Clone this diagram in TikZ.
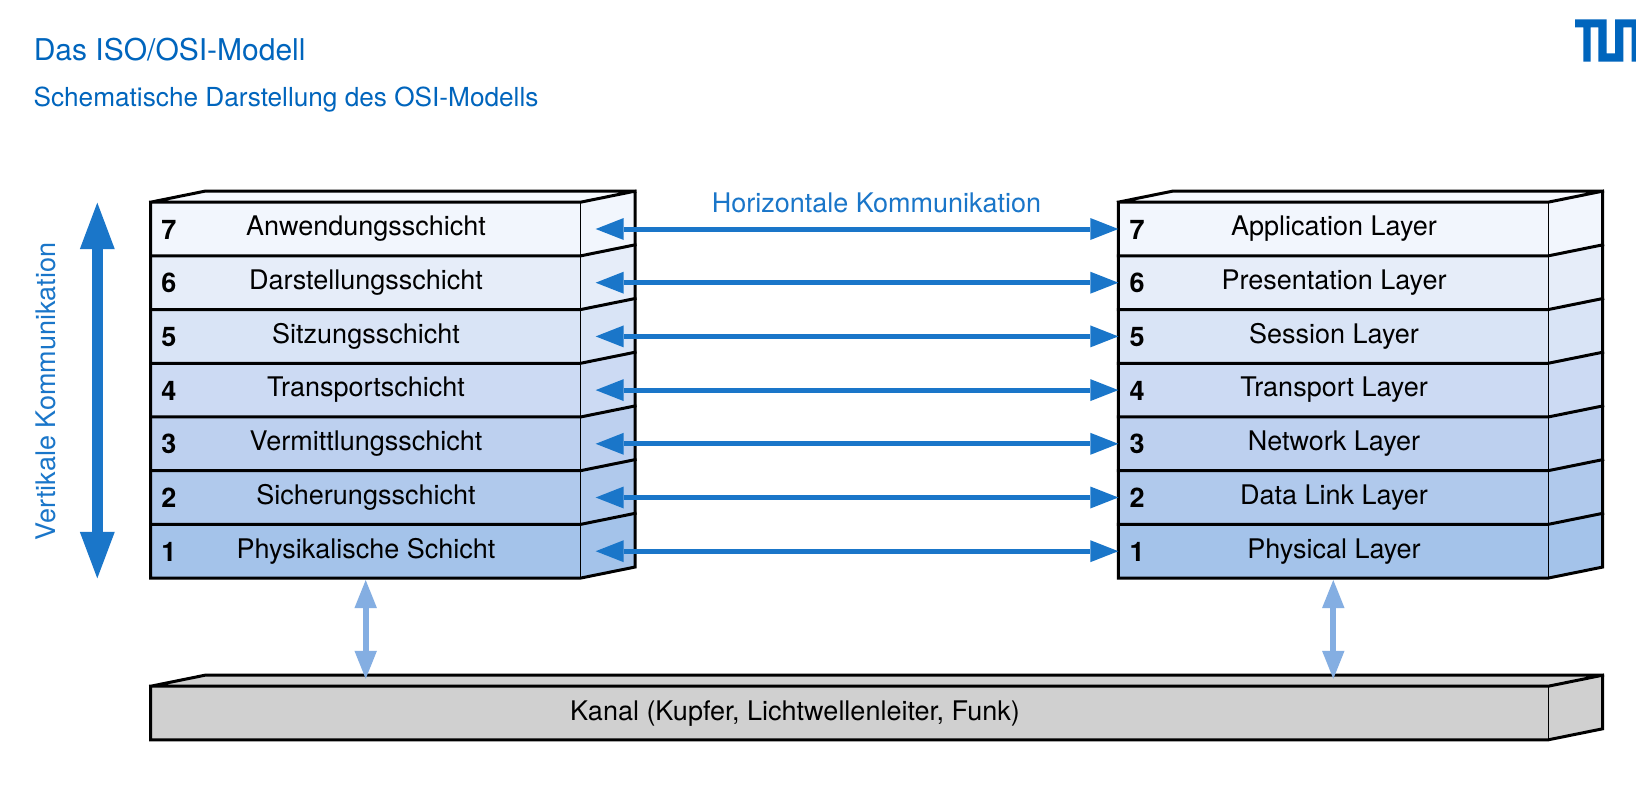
\documentclass[tikz,border=0pt]{standalone}
\usepackage{fontspec}
\setmainfont{TeX Gyre Heros}
\usetikzlibrary{arrows.meta}
\definecolor{tumblue}{HTML}{0065BD}
\definecolor{arrowblue}{HTML}{1A76C9}
\definecolor{lightarrow}{HTML}{84AEE2}
\definecolor{canalgray}{HTML}{D0D0D0}
\definecolor{topface}{HTML}{F6F9FE}
\definecolor{lay7}{HTML}{F2F6FD}
\definecolor{lay6}{HTML}{E6EDF9}
\definecolor{lay5}{HTML}{D9E4F6}
\definecolor{lay4}{HTML}{CCDAF3}
\definecolor{lay3}{HTML}{BDD0EF}
\definecolor{lay2}{HTML}{B0C9EC}
\definecolor{lay1}{HTML}{A4C3EA}
\tikzset{
  x=1pt,y=-1pt,
  txt/.style={font=\fontsize{27}{30}\selectfont,anchor=base,inner sep=0pt,text=black},
  numtxt/.style={font=\fontsize{27}{30}\selectfont\bfseries,anchor=base,inner sep=0pt,text=black},
  heading/.style={font=\fontsize{#1}{32}\selectfont,anchor=base west,inner sep=0pt,text=tumblue},
  bluetxt/.style={font=\fontsize{27}{30}\selectfont,anchor=base,inner sep=0pt,text=arrowblue},
  layerbox/.style={minimum width=430pt,minimum height=53.7pt,inner sep=0pt,outer sep=0pt,draw=none},
  heavy/.style={line width=3pt,line join=miter,line cap=rect},
  thin edge/.style={line width=1.5pt},
  harrow/.style={line width=5pt,arrowblue,{Triangle[length=28pt,width=22pt,line width=0pt]}-{Triangle[length=28pt,width=22pt,line width=0pt]}},
  varrow/.style={line width=6pt,lightarrow,{Triangle[length=28pt,width=22.5pt,line width=0pt]}-{Triangle[length=28pt,width=22.5pt,line width=0pt]}},
  bigarrow/.style={line width=10.7pt,arrowblue,{Triangle[length=46.5pt,width=35pt,line width=0pt]}-{Triangle[length=46.5pt,width=35pt,line width=0pt]}},
}
\begin{document}
\begin{tikzpicture}
\useasboundingbox (0,0) rectangle (1636,798);
\fill[white] (0,0) rectangle (1636,798);
% titles
\node[heading=30] (title) at (33.6,60.5) {Das ISO/OSI-Modell};
\node[heading=26.2] (subtitle) at (33.4,106) {Schematische Darstellung des OSI-Modells};
% logo
\fill[tumblue] (1575,19.3) -- (1606.7,19.3) -- (1606.7,53.3) -- (1615,53.3) -- (1615,19.3) -- (1636,19.3) -- (1636,61.7) -- (1631.5,61.7) -- (1631.5,27.3) -- (1623.3,27.3) -- (1623.3,61.7) -- (1598.3,61.7) -- (1598.3,27.3) -- (1590.7,27.3) -- (1590.7,61.7) -- (1583.3,61.7) -- (1583.3,27.3) -- (1575,27.3) -- cycle;
% layer stacks
\foreach \pre/\cx in {L/365.7,R/1333.3}{
  \foreach \i/\row in {7/0,6/1,5/2,4/3,3/4,2/5,1/6}{
    \pgfmathsetmacro{\cy}{229+53.7*\row}
    \node[layerbox,fill=lay\i] (\pre\i) at (\cx,\cy) {};
    \fill[lay\i] (\pre\i.north east) -- ++(54.3,-11) -- ++(0,53.7) -- (\pre\i.south east) -- cycle;
  }
  % top face
  \fill[topface] (\pre7.north west) -- ++(54.3,-11) -- ([shift={(54.3,-11)}]\pre7.north east) -- (\pre7.north east) -- cycle;
  \draw[heavy] (\pre7.north west) -- ++(54.3,-11) -- ([shift={(54.3,-11)}]\pre7.north east) -- ([shift={(54.3,-11)}]\pre1.south east) -- (\pre1.south east) -- (\pre1.south west) -- (\pre7.north west) -- (\pre7.north east) -- ([shift={(54.3,-11)}]\pre7.north east);
  \foreach \i in {7,6,5,4,3,2}{
    \draw[heavy] (\pre\i.south west) -- (\pre\i.south east) -- ++(54.3,-11);
  }
  \draw[thin edge] (\pre7.north east) -- (\pre1.south east);
}
% left labels
\foreach \i/\row/\t in {7/0/Anwendungsschicht,6/1/Darstellungsschicht,5/2/Sitzungsschicht,4/3/Transportschicht,3/4/Vermittlungsschicht,2/5/Sicherungsschicht,1/6/Physikalische Schicht}{
  \pgfmathsetmacro{\by}{235.8+53.7*\row}
  \pgfmathsetmacro{\ny}{239+53.7*\row}
  \node[txt] (Lt\i) at (366,\by) {\t};
  \node[numtxt] (Ln\i) at (169,\ny) {\i};
}
% right labels
\foreach \i/\row/\t in {7/0/Application Layer,6/1/Presentation Layer,5/2/Session Layer,4/3/Transport Layer,3/4/Network Layer,2/5/Data Link Layer,1/6/Physical Layer}{
  \pgfmathsetmacro{\by}{235.8+53.7*\row}
  \pgfmathsetmacro{\ny}{239+53.7*\row}
  \node[txt] (Rt\i) at (1334,\by) {\t};
  \node[numtxt] (Rn\i) at (1137,\ny) {\i};
}
% channel
\node[minimum width=1397.6pt,minimum height=53.6pt,inner sep=0pt,outer sep=0pt,fill=canalgray] (K) at (849.5,713) {};
\fill[canalgray] (K.north west) -- ++(54.3,-11) -- ([shift={(54.3,-11)}]K.north east) -- ([shift={(54.3,-11)}]K.south east) -- (K.south east) -- (K.north east) -- cycle;
\draw[heavy] (K.north west) -- ++(54.3,-11) -- ([shift={(54.3,-11)}]K.north east) -- ([shift={(54.3,-11)}]K.south east) -- (K.south east) -- (K.south west) -- (K.north west) -- (K.north east) -- ([shift={(54.3,-11)}]K.north east);
\draw[thin edge] (K.north east) -- (K.south east);
\node[txt] (Kt) at (795,720) {Kanal (Kupfer, Lichtwellenleiter, Funk)};
% horizontal arrows
\foreach \i in {7,6,5,4,3,2,1}{
  \draw[harrow] ([xshift=15pt]L\i.east) -- (R\i.west);
}
% channel arrows
\draw[varrow] ([yshift=-2pt]L1.south) -- ([yshift=7.4pt]L1.south |- K.north);
\draw[varrow] ([yshift=-2pt]R1.south) -- ([yshift=7.4pt]R1.south |- K.north);
% vertical communication
\coordinate (vtop) at (97.3,202.7);
\coordinate (vbot) at (97.3,578.3);
\draw[bigarrow] (vtop) -- (vbot);
\node[bluetxt,rotate=90] (vlabel) at (55,391.5) {Vertikale Kommunikation};
\node[bluetxt] (hlabel) at (876.5,212) {Horizontale Kommunikation};
\end{tikzpicture}
\end{document}
